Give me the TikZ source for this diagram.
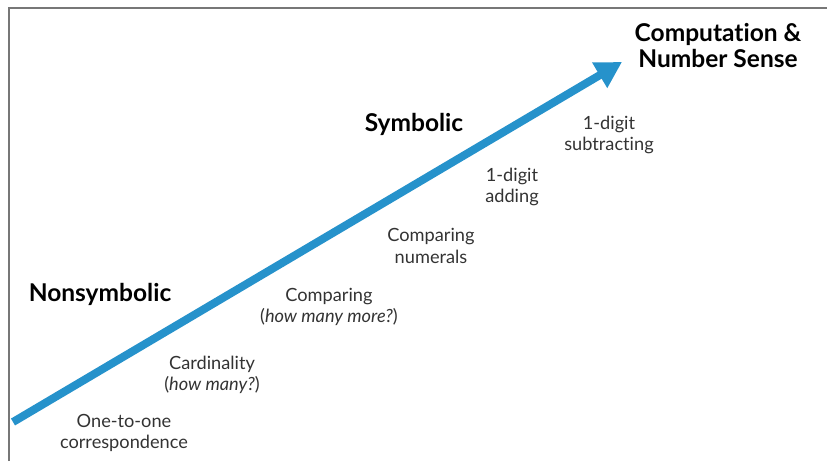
\documentclass[tikz,border=0pt]{standalone}
\usepackage{fontspec}
\setmainfont{Lato}[Ligatures=NoCommon]
\usetikzlibrary{arrows.meta}
\definecolor{arrowblue}{HTML}{2692CB}
\definecolor{framegray}{HTML}{777777}
\definecolor{textgray}{HTML}{333333}
\begin{document}
\begin{tikzpicture}[x=1pt,y=-1pt,
  stage/.style={align=center,text=textgray,font=\fontsize{18.2}{21.5}\selectfont,inner sep=0pt},
  level/.style={align=center,text=black,font=\fontsize{24.5}{26}\selectfont\bfseries,inner sep=0pt}]
  \useasboundingbox (0,0) rectangle (827,461);
  % partial frame: top and left edges
  \draw[framegray,line width=2pt] (9,461) -- (9,8) -- (827,8);
  % progression arrow
  \coordinate (start) at (13,422);
  \coordinate (goal) at (622,62);
  \draw[arrowblue,line width=8pt,-{Triangle[length=26pt,width=28pt]}] (start) -- (goal);
  % levels
  \node[level] (cns) at (718,46) {Computation \&\\Number Sense};
  \node[level] (sym) at (414,124) {Symbolic};
  \node[level] (nonsym) at (100,294) {Nonsymbolic};
  % stages
  \node[stage] (sub) at (609,135) {1-digit\\subtracting};
  \node[stage] (add) at (512,187) {1-digit\\adding};
  \node[stage] (cmpnum) at (431,246) {Comparing\\numerals};
  \node[stage] (cmpmore) at (329,307) {Comparing\\(\textit{how many more?})};
  \node[stage] (card) at (212,375) {Cardinality\\(\textit{how many?})};
  \node[stage] (one) at (124,433) {One-to-one\\correspondence};
\end{tikzpicture}
\end{document}
